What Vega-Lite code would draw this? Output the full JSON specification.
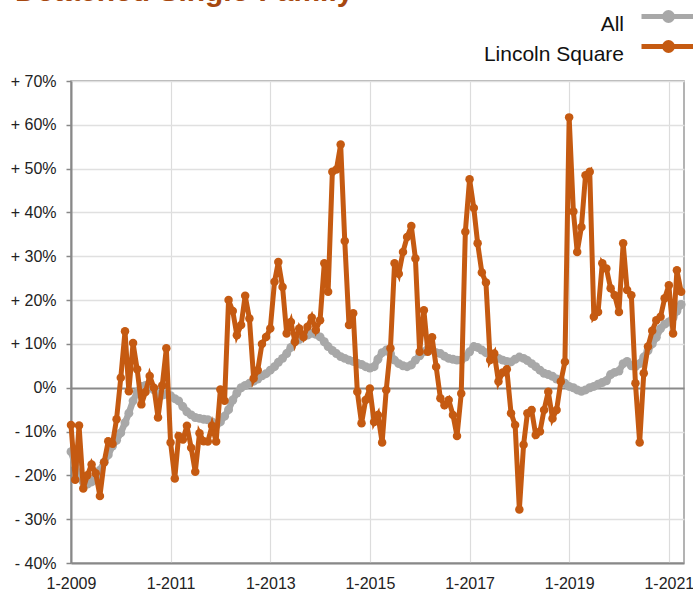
{
  "$schema": "https://vega.github.io/schema/vega-lite/v6.json",
  "width": 613,
  "height": 482,
  "autosize": {"type": "none"},
  "padding": {"left": 71, "top": 81, "right": 9, "bottom": 27},
  "background": "white",
  "title": {"text": "Detached Single-Family", "anchor": "start", "frame": "group", "dx": -56, "offset": -26, "baseline": "alphabetic", "fontSize": 30, "font": "Liberation Sans", "fontWeight": "bold", "color": "#a6480f"},
  "data": {"values": [
    {"date": "2009-01", "All": -14.6, "Lincoln Square": -8.5},
    {"date": "2009-02", "All": -17.5, "Lincoln Square": -21},
    {"date": "2009-03", "All": -20.5, "Lincoln Square": -8.6},
    {"date": "2009-04", "All": -21.5, "Lincoln Square": -23},
    {"date": "2009-05", "All": -22, "Lincoln Square": -20},
    {"date": "2009-06", "All": -21.5, "Lincoln Square": -17.5},
    {"date": "2009-07", "All": -20.5, "Lincoln Square": -19.5},
    {"date": "2009-08", "All": -18.8, "Lincoln Square": -24.7},
    {"date": "2009-09", "All": -17, "Lincoln Square": -17},
    {"date": "2009-10", "All": -15.3, "Lincoln Square": -12.2},
    {"date": "2009-11", "All": -13.3, "Lincoln Square": -12.8},
    {"date": "2009-12", "All": -12, "Lincoln Square": -7.2},
    {"date": "2010-01", "All": -10.3, "Lincoln Square": 2.3},
    {"date": "2010-02", "All": -8, "Lincoln Square": 12.9},
    {"date": "2010-03", "All": -5.8, "Lincoln Square": -0.8},
    {"date": "2010-04", "All": -3, "Lincoln Square": 10.2},
    {"date": "2010-05", "All": -1, "Lincoln Square": 4.2},
    {"date": "2010-06", "All": 0.3, "Lincoln Square": -3.8},
    {"date": "2010-07", "All": 0.5, "Lincoln Square": -1},
    {"date": "2010-08", "All": 0.2, "Lincoln Square": 2.7},
    {"date": "2010-09", "All": -0.5, "Lincoln Square": 0},
    {"date": "2010-10", "All": -1.5, "Lincoln Square": -6.8},
    {"date": "2010-11", "All": -1.7, "Lincoln Square": 0.5},
    {"date": "2010-12", "All": -1.5, "Lincoln Square": 9},
    {"date": "2011-01", "All": -1.8, "Lincoln Square": -12.5},
    {"date": "2011-02", "All": -2.5, "Lincoln Square": -20.7},
    {"date": "2011-03", "All": -3, "Lincoln Square": -11},
    {"date": "2011-04", "All": -4.3, "Lincoln Square": -11.8},
    {"date": "2011-05", "All": -5.5, "Lincoln Square": -8.7},
    {"date": "2011-06", "All": -6.2, "Lincoln Square": -13.7},
    {"date": "2011-07", "All": -6.8, "Lincoln Square": -19.2},
    {"date": "2011-08", "All": -7, "Lincoln Square": -10.4},
    {"date": "2011-09", "All": -7.2, "Lincoln Square": -12.2},
    {"date": "2011-10", "All": -7.3, "Lincoln Square": -12.3},
    {"date": "2011-11", "All": -7.8, "Lincoln Square": -8.7},
    {"date": "2011-12", "All": -8.6, "Lincoln Square": -12.3},
    {"date": "2012-01", "All": -7.8, "Lincoln Square": -0.4},
    {"date": "2012-02", "All": -6.5, "Lincoln Square": -3},
    {"date": "2012-03", "All": -5, "Lincoln Square": 20},
    {"date": "2012-04", "All": -2.8, "Lincoln Square": 17.5},
    {"date": "2012-05", "All": -1.2, "Lincoln Square": 12},
    {"date": "2012-06", "All": 0, "Lincoln Square": 14.3},
    {"date": "2012-07", "All": 0.5, "Lincoln Square": 21},
    {"date": "2012-08", "All": 1, "Lincoln Square": 15.8},
    {"date": "2012-09", "All": 1.5, "Lincoln Square": 2.1},
    {"date": "2012-10", "All": 2, "Lincoln Square": 4},
    {"date": "2012-11", "All": 2.7, "Lincoln Square": 10},
    {"date": "2012-12", "All": 3.2, "Lincoln Square": 11.6},
    {"date": "2013-01", "All": 4, "Lincoln Square": 13.5},
    {"date": "2013-02", "All": 4.8, "Lincoln Square": 24.2},
    {"date": "2013-03", "All": 5.8, "Lincoln Square": 28.7},
    {"date": "2013-04", "All": 6.7, "Lincoln Square": 23},
    {"date": "2013-05", "All": 7.8, "Lincoln Square": 12.4},
    {"date": "2013-06", "All": 9.2, "Lincoln Square": 15},
    {"date": "2013-07", "All": 10.5, "Lincoln Square": 10.5},
    {"date": "2013-08", "All": 11, "Lincoln Square": 13.5},
    {"date": "2013-09", "All": 11.6, "Lincoln Square": 11.6},
    {"date": "2013-10", "All": 12, "Lincoln Square": 13.9},
    {"date": "2013-11", "All": 12.4, "Lincoln Square": 16},
    {"date": "2013-12", "All": 12.2, "Lincoln Square": 13.2},
    {"date": "2014-01", "All": 11.6, "Lincoln Square": 15.4},
    {"date": "2014-02", "All": 10.5, "Lincoln Square": 28.4},
    {"date": "2014-03", "All": 9.4, "Lincoln Square": 21.9},
    {"date": "2014-04", "All": 8.5, "Lincoln Square": 49.3},
    {"date": "2014-05", "All": 7.8, "Lincoln Square": 49.8},
    {"date": "2014-06", "All": 7.1, "Lincoln Square": 55.5},
    {"date": "2014-07", "All": 6.7, "Lincoln Square": 33.5},
    {"date": "2014-08", "All": 6.3, "Lincoln Square": 14.3},
    {"date": "2014-09", "All": 6, "Lincoln Square": 17},
    {"date": "2014-10", "All": 5.6, "Lincoln Square": -0.9},
    {"date": "2014-11", "All": 5.3, "Lincoln Square": -8.1},
    {"date": "2014-12", "All": 4.8, "Lincoln Square": -2.8},
    {"date": "2015-01", "All": 4.5, "Lincoln Square": -0.2},
    {"date": "2015-02", "All": 4.8, "Lincoln Square": -7.8},
    {"date": "2015-03", "All": 6.5, "Lincoln Square": -6.2},
    {"date": "2015-04", "All": 8, "Lincoln Square": -12.5},
    {"date": "2015-05", "All": 8.6, "Lincoln Square": -0.5},
    {"date": "2015-06", "All": 7.8, "Lincoln Square": 9},
    {"date": "2015-07", "All": 6.3, "Lincoln Square": 28.4},
    {"date": "2015-08", "All": 5.5, "Lincoln Square": 26},
    {"date": "2015-09", "All": 5, "Lincoln Square": 31},
    {"date": "2015-10", "All": 4.8, "Lincoln Square": 34.4},
    {"date": "2015-11", "All": 5.2, "Lincoln Square": 36.9},
    {"date": "2015-12", "All": 6.3, "Lincoln Square": 29.5},
    {"date": "2016-01", "All": 7.3, "Lincoln Square": 8.2},
    {"date": "2016-02", "All": 8.2, "Lincoln Square": 17.7},
    {"date": "2016-03", "All": 8.8, "Lincoln Square": 8.2},
    {"date": "2016-04", "All": 8.6, "Lincoln Square": 11.5},
    {"date": "2016-05", "All": 8, "Lincoln Square": 4.8},
    {"date": "2016-06", "All": 7.8, "Lincoln Square": -2.4},
    {"date": "2016-07", "All": 7.2, "Lincoln Square": -4},
    {"date": "2016-08", "All": 6.7, "Lincoln Square": -2.8},
    {"date": "2016-09", "All": 6.5, "Lincoln Square": -6.2},
    {"date": "2016-10", "All": 6.3, "Lincoln Square": -11},
    {"date": "2016-11", "All": 6.3, "Lincoln Square": -1.3},
    {"date": "2016-12", "All": 7, "Lincoln Square": 35.6},
    {"date": "2017-01", "All": 8.2, "Lincoln Square": 47.6},
    {"date": "2017-02", "All": 9.4, "Lincoln Square": 41},
    {"date": "2017-03", "All": 9.2, "Lincoln Square": 33},
    {"date": "2017-04", "All": 8.6, "Lincoln Square": 26.3},
    {"date": "2017-05", "All": 8, "Lincoln Square": 24},
    {"date": "2017-06", "All": 7.5, "Lincoln Square": 6.3},
    {"date": "2017-07", "All": 7.1, "Lincoln Square": 7.8},
    {"date": "2017-08", "All": 6.7, "Lincoln Square": 1.4},
    {"date": "2017-09", "All": 6.3, "Lincoln Square": 3.5},
    {"date": "2017-10", "All": 6, "Lincoln Square": 4.2},
    {"date": "2017-11", "All": 5.9, "Lincoln Square": -5.8},
    {"date": "2017-12", "All": 6.5, "Lincoln Square": -8.5},
    {"date": "2018-01", "All": 7, "Lincoln Square": -27.8},
    {"date": "2018-02", "All": 6.7, "Lincoln Square": -13},
    {"date": "2018-03", "All": 6.2, "Lincoln Square": -5.8},
    {"date": "2018-04", "All": 5.5, "Lincoln Square": -5.1},
    {"date": "2018-05", "All": 4.8, "Lincoln Square": -10.8},
    {"date": "2018-06", "All": 4, "Lincoln Square": -10},
    {"date": "2018-07", "All": 3.3, "Lincoln Square": -5.1},
    {"date": "2018-08", "All": 3, "Lincoln Square": -0.9},
    {"date": "2018-09", "All": 2.6, "Lincoln Square": -7},
    {"date": "2018-10", "All": 2, "Lincoln Square": -5.1},
    {"date": "2018-11", "All": 1.7, "Lincoln Square": 1.4},
    {"date": "2018-12", "All": 1, "Lincoln Square": 5.9},
    {"date": "2019-01", "All": 0.3, "Lincoln Square": 61.7},
    {"date": "2019-02", "All": 0, "Lincoln Square": 40.2},
    {"date": "2019-03", "All": -0.5, "Lincoln Square": 31},
    {"date": "2019-04", "All": -0.8, "Lincoln Square": 36.7},
    {"date": "2019-05", "All": -0.5, "Lincoln Square": 48.5},
    {"date": "2019-06", "All": 0, "Lincoln Square": 49.3},
    {"date": "2019-07", "All": 0.3, "Lincoln Square": 16.2},
    {"date": "2019-08", "All": 0.8, "Lincoln Square": 17.3},
    {"date": "2019-09", "All": 1.2, "Lincoln Square": 28.4},
    {"date": "2019-10", "All": 1.6, "Lincoln Square": 27.2},
    {"date": "2019-11", "All": 3, "Lincoln Square": 22.7},
    {"date": "2019-12", "All": 3.5, "Lincoln Square": 21.1},
    {"date": "2020-01", "All": 3.8, "Lincoln Square": 17.3},
    {"date": "2020-02", "All": 5.5, "Lincoln Square": 33},
    {"date": "2020-03", "All": 6, "Lincoln Square": 22.3},
    {"date": "2020-04", "All": 5, "Lincoln Square": 21.1},
    {"date": "2020-05", "All": 4.8, "Lincoln Square": 1},
    {"date": "2020-06", "All": 5.5, "Lincoln Square": -12.5},
    {"date": "2020-07", "All": 7, "Lincoln Square": 3.3},
    {"date": "2020-08", "All": 8.5, "Lincoln Square": 9.4},
    {"date": "2020-09", "All": 10, "Lincoln Square": 13},
    {"date": "2020-10", "All": 11.5, "Lincoln Square": 15.4},
    {"date": "2020-11", "All": 13.5, "Lincoln Square": 16.2},
    {"date": "2020-12", "All": 14.5, "Lincoln Square": 20.4},
    {"date": "2021-01", "All": 15, "Lincoln Square": 23.4},
    {"date": "2021-02", "All": 16, "Lincoln Square": 12.4},
    {"date": "2021-03", "All": 17.5, "Lincoln Square": 26.8},
    {"date": "2021-04", "All": 19, "Lincoln Square": 21.9}
  ]},
  "transform": [{"fold": ["All", "Lincoln Square"], "as": ["series", "value"]}],
  "encoding": {
    "x": {
      "field": "date", "type": "temporal",
      "scale": {"type": "utc", "domain": [{"year": 2009, "month": 1, "date": 1, "utc": true}, {"year": 2021, "month": 4, "date": 22, "utc": true}]},
      "axis": {
        "title": null,
        "values": [
          {"year": 2009, "month": 1, "date": 1, "utc": true},
          {"year": 2011, "month": 1, "date": 1, "utc": true},
          {"year": 2013, "month": 1, "date": 1, "utc": true},
          {"year": 2015, "month": 1, "date": 1, "utc": true},
          {"year": 2017, "month": 1, "date": 1, "utc": true},
          {"year": 2019, "month": 1, "date": 1, "utc": true},
          {"year": 2021, "month": 1, "date": 1, "utc": true}
        ],
        "labelExpr": "utcFormat(datum.value, '%-m-%Y')",
        "grid": true, "gridColor": "#dcdcdc", "gridWidth": 1.2,
        "ticks": false, "tickSize": 0,
        "domainColor": "#888888", "domainWidth": 2,
        "labelFont": "Liberation Sans", "labelFontSize": 16, "labelColor": "#222222",
        "labelPadding": 12, "labelFlush": false, "labelOverlap": false
      }
    },
    "y": {
      "field": "value", "type": "quantitative",
      "scale": {"domain": [-40, 70], "nice": false, "zero": false},
      "axis": {
        "title": null,
        "values": [-40, -30, -20, -10, 0, 10, 20, 30, 40, 50, 60, 70],
        "labelExpr": "datum.value > 0 ? '+ ' + datum.value + '%' : (datum.value < 0 ? '- ' + (-datum.value) + '%' : '0%')",
        "grid": true,
        "gridColor": {"condition": {"test": "datum.value === 0", "value": "#8a8a8a"}, "value": "#e0e0e0"},
        "gridWidth": {"condition": {"test": "datum.value === 0", "value": 2}, "value": 1.3},
        "domainColor": "#888888", "domainWidth": 2,
        "tickColor": "#888888", "tickSize": 5, "tickWidth": 1.5,
        "labelFont": "Liberation Sans", "labelFontSize": 16, "labelColor": "#222222",
        "labelPadding": 10
      }
    },
    "color": {
      "field": "series", "type": "nominal",
      "scale": {"domain": ["All", "Lincoln Square"], "range": ["#a8a8a8", "#c55a11"]},
      "legend": {
        "title": null, "orient": "none", "legendX": 586, "legendY": -76, "direction": "vertical",
        "symbolType": "M-3,0L3,0M0.44,0A0.44,0.44,0,1,1,-0.44,0A0.44,0.44,0,1,1,0.44,0",
        "symbolSize": 324, "symbolStrokeWidth": 5, "symbolOpacity": 1,
        "labelAlign": "right", "labelBaseline": "top", "labelOffset": -56,
        "labelFontSize": 21, "labelFont": "Liberation Sans", "labelColor": "#111111",
        "rowPadding": -3, "padding": 0,
        "encode": {
          "symbols": {"update": {"fill": {"scale": "color", "field": "value"}, "stroke": {"scale": "color", "field": "value"}}},
          "labels": {"update": {"dy": {"value": -3}}}
        }
      }
    }
  },
  "layer": [
    {"transform": [{"filter": "datum.series === 'All'"}], "mark": {"type": "line", "strokeWidth": 6.5}},
    {"transform": [{"filter": "datum.series === 'All'"}], "mark": {"type": "circle", "size": 80, "opacity": 1}},
    {"transform": [{"filter": "datum.series === 'Lincoln Square'"}], "mark": {"type": "line", "strokeWidth": 5}},
    {"transform": [{"filter": "datum.series === 'Lincoln Square'"}], "mark": {"type": "circle", "size": 72, "opacity": 1}}
  ],
  "config": {
    "view": {"stroke": "#9a9a9a", "strokeWidth": 1.5},
    "font": "Liberation Sans"
  }
}
